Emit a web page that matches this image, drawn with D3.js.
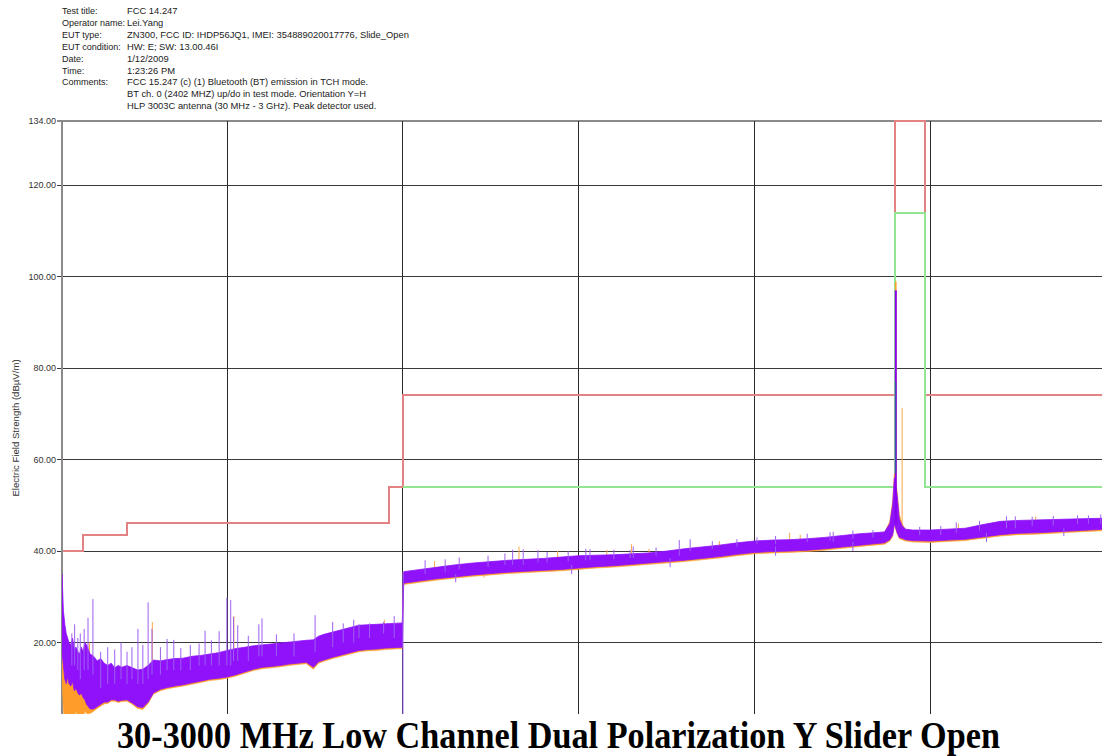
<!DOCTYPE html>
<html>
<head>
<meta charset="utf-8">
<script src="https://cdn.jsdelivr.net/npm/d3@7"></script>
<style>
  body { margin: 0; background: #fff; }
  svg { display: block; }
</style>
</head>
<body>
<svg id="chart" width="1102" height="756"></svg>
<script>
// ---- Report header ----
const headerLabels = ["Test title:", "Operator name:", "EUT type:", "EUT condition:", "Date:", "Time:", "Comments:", "", ""];
const headerValues = [
  "FCC 14.247",
  "Lei.Yang",
  "ZN300, FCC ID: IHDP56JQ1, IMEI: 354889020017776, Slide_Open",
  "HW: E; SW: 13.00.46I",
  "1/12/2009",
  "1:23:26 PM",
  "FCC 15.247 (c) (1) Bluetooth (BT) emission in TCH mode.",
  "BT ch. 0 (2402 MHZ) up/do in test mode. Orientation Y=H",
  "HLP 3003C antenna (30 MHz - 3 GHz). Peak detector used."
];
const chartTitle = "30-3000 MHz Low Channel Dual Polarization Y Slider Open";
const yAxisTitle = "Electric Field Strength (dB\u00B5V/m)";

// ---- Axes ----
const freqDomain = [30, 3000];          // MHz
const levelDomain = [0, 134];           // dBµV/m
const yTickValues = [20, 40, 60, 80, 100, 120, 134];
const xGridValues = [500, 1000, 1500, 2000, 2500, 3000];

// ---- Limit lines (step points: level holds until the next frequency) ----
const peakLimit = [[30, 40], [88, 43.5], [216, 46], [960, 54], [1000, 74], [2400, 134], [2483.5, 74], [3000, 74]];
const avgLimit  = [[1000, 54], [2400, 114], [2483.5, 54], [3000, 54]];

// ---- Measured sweep: envelope of each trace (min / max per frequency bin) ----
const traceFreq = [
  30, 34, 38, 42, 46, 50, 55, 60, 65, 70, 75, 80, 85, 90, 95, 100,
  110, 120, 130, 140, 150, 160, 170, 180, 190, 200, 215, 230, 245, 260, 275, 290,
  310, 330, 350, 375, 400, 425, 450, 475, 500, 525, 550, 575, 600, 625, 650, 675,
  700, 725, 745, 760, 775, 800, 825, 850, 875, 900, 925, 950, 975, 998,
  1002, 1050, 1100, 1150, 1200, 1250, 1300, 1350, 1400, 1450, 1500, 1550, 1600, 1650,
  1700, 1750, 1800, 1850, 1900, 1950, 2000, 2050, 2100, 2150, 2200, 2250, 2300,
  2340, 2370, 2385, 2393, 2398, 2406, 2412, 2420, 2430, 2450,
  2500, 2550, 2600, 2650, 2700, 2750, 2800, 2850, 2900, 2950, 3000
];
const vertHigh = [
  35, 27, 24, 22, 21, 20, 19.5, 21, 18.5, 19, 18, 17.5, 19, 18, 20, 19.5,
  17.5, 17, 16, 16.5, 15.5, 15, 15.5, 14.5, 15, 14.6, 15, 14.5, 14, 14.2, 15, 16.2,
  16, 16.3, 16.5, 16.6, 17, 17.2, 17.5, 17.8, 18.3, 18.7, 19, 19.3, 19.5, 19.7, 19.9, 20.1,
  20.3, 20.5, 20.6, 21.4, 21.8, 22.3, 22.8, 23.3, 23.8, 23.9, 24, 24.1, 24.2, 24.3,
  35.5, 36, 36.5, 37, 37.4, 37.7, 38, 38.2, 38.4, 38.7, 39, 39.1, 39.2, 39.4,
  39.6, 40, 40.5, 40.9, 41.3, 41.8, 42.2, 42.4, 42.5, 42.7, 43, 43.4, 43.8,
  44, 44.2, 46, 50, 56, 52, 47, 45.5, 44.8, 44.6,
  44.6, 44.8, 45, 45.8, 46.5, 46.7, 46.8, 46.9, 47, 47.1, 47.2
];
const vertLow = [
  18, 15, 12, 11, 12.5, 11, 10.5, 11.5, 9.5, 10, 9, 8.5, 9, 8, 7.5, 6.5,
  5.5, 5.5, 6, 6.5, 7, 7, 7.5, 7.5, 7.2, 7.4, 7.5, 6.8, 6, 5.8, 7, 9,
  9.8, 10.2, 10.5, 10.8, 11.2, 11.6, 12, 12.2, 12.5, 13, 13.6, 14.2, 14.6, 14.8, 15, 15.3,
  15.5, 15.7, 14.6, 15.8, 16.2, 16.8, 17.3, 17.8, 18.3, 18.5, 18.6, 18.8, 18.9, 19,
  33, 33.5, 34, 34.4, 34.8, 35.1, 35.4, 35.6, 35.8, 36, 36.3, 36.6, 36.8, 37.1,
  37.4, 37.7, 38, 38.4, 38.8, 39.3, 39.7, 39.9, 40, 40.2, 40.5, 40.9, 41.3,
  41.6, 41.8, 42.5, 43.5, 46, 44, 43, 42.8, 42.5, 42.3,
  42.2, 42.4, 42.6, 43.1, 43.6, 43.9, 44, 44.2, 44.4, 44.6, 44.8
];
const horzHigh = [
  30, 22, 19, 18, 17, 16.5, 17, 16, 15, 16.5, 15, 14.5, 16, 15, 17, 16,
  15, 14.5, 14, 14.5, 14, 13.5, 14, 13.5, 13.8, 13.5, 14, 13.5, 13, 13.2, 14, 15,
  15, 15.3, 15.5, 15.6, 16, 16.3, 16.6, 16.9, 17.4, 17.8, 18.1, 18.4, 18.6, 18.8, 19, 19.2,
  19.4, 19.6, 19.6, 20.5, 20.9, 21.4, 21.9, 22.4, 22.9, 23, 23.1, 23.2, 23.4, 23.5,
  35.3, 35.8, 36.3, 36.8, 37.2, 37.5, 37.8, 38, 38.2, 38.5, 38.8, 38.9, 39, 39.2,
  39.4, 39.8, 40.3, 40.7, 41.1, 41.6, 42, 42.2, 42.3, 42.5, 42.8, 43.2, 43.6,
  43.8, 44, 46.5, 51, 57, 53, 48, 46, 44.6, 44.4,
  44.4, 44.6, 44.8, 45.6, 46.3, 46.5, 46.6, 46.7, 46.8, 46.9, 47
];
const horzLow = [
  12, 5, 3, 2.5, 4, 3, 4.5, 3.5, 3, 5, 4, 3, 4.5, 3.5, 5, 4.5,
  4.5, 5, 5.6, 6.1, 6.6, 6.7, 7.2, 7.2, 6.9, 7.1, 7.2, 6.5, 5.6, 5.4, 6.7, 8.7,
  9.5, 9.9, 10.2, 10.5, 10.9, 11.3, 11.7, 11.9, 12.2, 12.7, 13.3, 13.9, 14.3, 14.5, 14.7, 15,
  15.2, 15.4, 14.2, 15.5, 15.9, 16.5, 17, 17.5, 18, 18.2, 18.3, 18.5, 18.6, 18.7,
  32.7, 33.2, 33.7, 34.1, 34.5, 34.8, 35.1, 35.3, 35.5, 35.7, 36, 36.3, 36.5, 36.8,
  37.1, 37.4, 37.7, 38.1, 38.5, 39, 39.4, 39.6, 39.7, 39.9, 40.2, 40.6, 41,
  41.3, 41.5, 42.2, 43.2, 45.7, 43.7, 42.7, 42.5, 42.2, 42,
  41.9, 42.1, 42.3, 42.8, 43.3, 43.6, 43.7, 43.9, 44.1, 44.3, 44.5
];

// ---- Discrete emissions and noise peaks: [frequency, from level, to level] ----
const vertSpikes = [
  [58, 15, 22], [66, 15, 24], [75, 14, 21], [82, 12, 22], [93, 14, 23], [104, 14, 25.4],
  [118, 13, 29.5], [140, 10, 18], [160, 11, 19], [180, 11, 18.5], [198, 12, 20],
  [215, 11, 18], [229, 12, 19], [246, 11, 23], [260, 11, 19.5], [275, 12, 28.8],
  [286, 13, 23], [310, 13, 19], [329, 14, 20.8], [348, 14, 20.6], [368, 14, 18.8],
  [395, 14, 19.5], [420, 15, 19.8], [437, 15, 22.6], [455, 15, 20.5], [477, 15, 22.5],
  [499, 15, 29.8], [510, 15, 29.3], [518, 16, 25.6], [530, 16, 23.8], [560, 16, 21.5],
  [590, 17, 24], [599, 17, 25.3], [640, 17, 21.8], [690, 17, 22], [750, 18, 26],
  [800, 19, 24.5], [830, 20, 24.2], [860, 20, 25], [875, 21, 24], [905, 21, 24.2],
  [945, 22, 24.5], [975, 21, 25.8], [1000, 0, 35.5],
  [1063, 35, 38], [1120, 35.5, 38.2], [1160, 36, 38.6], [1242, 36.5, 39], [1290, 37, 39.5],
  [1312, 37, 40.3], [1342, 37, 40.4], [1384, 37.5, 40.2], [1410, 37.5, 39.8], [1470, 37.8, 40],
  [1520, 38, 40.5], [1532, 38, 40.4], [1600, 38.2, 40.3], [1646, 38.5, 40.2], [1655, 38.5, 41],
  [1720, 39, 40.8], [1786, 39, 42.4], [1817, 40, 42.6], [1880, 40.5, 42.2], [1950, 41, 42.6],
  [2007, 41.5, 43], [2060, 41.5, 43.3], [2150, 42, 43.8], [2215, 42.3, 44.1], [2224, 42, 44.2],
  [2280, 42.7, 44.5], [2337, 43, 44.6], [2470, 43.5, 45.3], [2530, 43.5, 45.5], [2574, 44, 46.3],
  [2640, 44.5, 46.6], [2717, 45, 47.6], [2742, 45, 47.6], [2790, 45.5, 47.5], [2850, 45.6, 47.7],
  [2919, 46, 47.8], [2950, 46, 47.8], [2985, 46, 48],
  [1150, 33.2, 35], [1480, 35, 37], [1760, 36.5, 38.5], [2060, 39, 41], [2280, 40, 42],
  [2660, 42, 44], [2880, 43.3, 45]
];
const horzSpikes = [
  [108, 10, 20], [287, 12, 24.5], [519, 14, 25.8], [947, 20, 25],
  [1090, 36, 37.8], [1230, 34.2, 35.4], [1330, 36, 41], [1440, 38, 40], [1580, 38.5, 40.3],
  [1650, 37, 41.5], [1700, 39, 40.5], [1900, 40.5, 42.2], [2100, 41, 44], [2130, 41.5, 43.6],
  [2420, 44, 71.3], [2580, 44, 46], [2800, 45.5, 47.6]
];
// Bluetooth carrier at 2402 MHz: [frequency, from, to]
const carrierHorz = [2402, 46, 98.9];
const carrierVert = [2402, 46, 97];
const carrierAvg  = [2401.3, 57, 77];

// ---- Drawing ----
const svg = d3.select("#chart");
const plot = { left: 62, top: 121, right: 1106, bottom: 714 };

const x = d3.scaleLinear().domain(freqDomain).range([plot.left, plot.right]);
const y = d3.scaleLinear().domain(levelDomain).range([734.1, 121.05]);

svg.append("defs").append("clipPath").attr("id", "plotClip")
  .append("rect")
  .attr("x", plot.left).attr("y", plot.top - 1)
  .attr("width", plot.right - plot.left).attr("height", plot.bottom - plot.top + 1);

// header block
const header = svg.append("g")
  .attr("font-family", "'Liberation Sans', Arial, sans-serif")
  .attr("fill", "#222");
headerLabels.forEach((t, i) => {
  const yy = 14 + i * 11.9;
  header.append("text").attr("x", 62).attr("y", yy).attr("font-size", 9).text(t);
  header.append("text").attr("x", 127).attr("y", yy).attr("font-size", 9.4).text(headerValues[i]);
});

// horizontal grid + y tick labels
const grid = svg.append("g").attr("shape-rendering", "crispEdges");
grid.selectAll("line.h").data(yTickValues).join("line")
  .attr("class", "h")
  .attr("x1", plot.left - 5).attr("x2", 1102)
  .attr("y1", d => y(d)).attr("y2", d => y(d))
  .attr("stroke", d => d === 134 ? "#8a8a8a" : "#3a3a3a")
  .attr("stroke-width", d => d === 134 ? 2 : 1);

svg.append("g")
  .attr("font-family", "'Liberation Sans', Arial, sans-serif")
  .attr("font-size", 9)
  .attr("fill", "#333")
  .attr("text-anchor", "end")
  .selectAll("text").data(yTickValues).join("text")
  .attr("x", 56).attr("y", d => y(d) + 3)
  .text(d => d3.format(".2f")(d));

// vertical grid
grid.selectAll("line.v").data(xGridValues).join("line")
  .attr("class", "v")
  .attr("x1", d => x(d)).attr("x2", d => x(d))
  .attr("y1", plot.top).attr("y2", plot.bottom)
  .attr("stroke", "#2a2a2a")
  .attr("stroke-width", 1);

// left axis line
svg.append("line")
  .attr("x1", plot.left).attr("x2", plot.left)
  .attr("y1", plot.top).attr("y2", plot.bottom)
  .attr("stroke", "#8a8a8a").attr("stroke-width", 2);

// y axis title
svg.append("text")
  .attr("transform", "translate(19,428) rotate(-90)")
  .attr("text-anchor", "middle")
  .attr("font-family", "'Liberation Sans', Arial, sans-serif")
  .attr("font-size", 9.6)
  .attr("fill", "#333")
  .text(yAxisTitle);

const body = svg.append("g").attr("clip-path", "url(#plotClip)");

// limit lines, snapped to whole pixel pairs so the thin coloured strokes stay sharp
const snap = v => Math.round((v - 1) / 2) * 2 + 1;
const stepLine = d3.line().x(d => snap(x(d[0]))).y(d => snap(y(d[1]))).curve(d3.curveStepAfter);
body.append("path").datum(peakLimit)
  .attr("d", stepLine).attr("fill", "none")
  .attr("shape-rendering", "crispEdges")
  .attr("stroke", "#e38282").attr("stroke-width", 2);
body.append("path").datum(avgLimit)
  .attr("d", stepLine).attr("fill", "none")
  .attr("shape-rendering", "crispEdges")
  .attr("stroke", "#92e692").attr("stroke-width", 2);

// traces
function band(hi, lo) {
  return traceFreq.map((f, i) => ({ f, hi: hi[i], lo: lo[i] }));
}
const area = d3.area().x(d => x(d.f)).y0(d => y(d.lo)).y1(d => y(d.hi));
function spikes(g, list, color, width) {
  g.selectAll(null).data(list).join("line")
    .attr("x1", d => x(d[0])).attr("x2", d => x(d[0]))
    .attr("y1", d => y(d[1])).attr("y2", d => y(d[2]))
    .attr("stroke", color).attr("stroke-width", width);
}

const orange = "#ff9d2a";
const purple = "#8f12fb";

// horizontal polarization (orange)
body.append("path").datum(band(horzHigh, horzLow))
  .attr("d", area).attr("fill", orange)
  .attr("stroke", orange).attr("stroke-width", 0.6);
spikes(body.append("g"), horzSpikes, "#f7a848", 1);
spikes(body.append("g"), [carrierHorz], orange, 1.6);

// vertical polarization (purple)
body.append("path").datum(band(vertHigh, vertLow))
  .attr("d", area).attr("fill", purple)
  .attr("stroke", purple).attr("stroke-width", 0.8);
spikes(body.append("g"), vertSpikes, "#9d5ff0", 1);
spikes(body.append("g"), [carrierVert], "#8a00f0", 2);
spikes(body.append("g"), [carrierAvg], "#3d4fb0", 1.3);

// title
svg.append("text")
  .attr("x", 117).attr("y", 748)
  .attr("font-family", "'Liberation Serif', 'Times New Roman', serif")
  .attr("font-weight", "bold")
  .attr("font-size", 37)
  .attr("textLength", 883)
  .attr("lengthAdjust", "spacingAndGlyphs")
  .attr("fill", "#000")
  .text(chartTitle);
</script>
</body>
</html>
